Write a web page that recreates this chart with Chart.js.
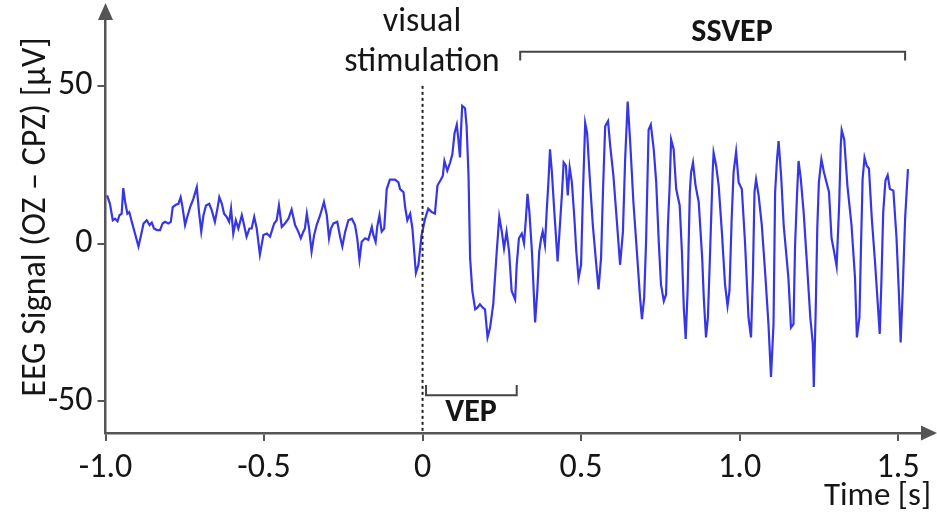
<!DOCTYPE html>
<html>
<head>
<meta charset="utf-8">
<script src="https://cdn.jsdelivr.net/npm/chart.js@4.4.0/dist/chart.umd.min.js"></script>
<style>
  body { margin: 0; background: #fff; }
  canvas { display: block; }
</style>
</head>
<body>
<canvas id="eegChart" width="937" height="518"></canvas>
<script>
// time axis (s) and EEG values (µV)
const times = [
  -0.995, -0.986, -0.977, -0.970, -0.962, -0.956, -0.949, -0.944, -0.938, -0.931,
  -0.925, -0.917, -0.907, -0.896, -0.889, -0.880, -0.870, -0.861, -0.854, -0.847,
  -0.838, -0.828, -0.820, -0.812, -0.802, -0.794, -0.788, -0.778, -0.770, -0.763,
  -0.758, -0.749, -0.742, -0.733, -0.723, -0.712, -0.705, -0.698, -0.691, -0.683,
  -0.673, -0.665, -0.655, -0.647, -0.641, -0.633, -0.626, -0.618, -0.610, -0.604,
  -0.597, -0.589, -0.581, -0.570, -0.563, -0.555, -0.546, -0.539, -0.531, -0.523,
  -0.513, -0.502, -0.491, -0.481, -0.468, -0.460, -0.453, -0.444, -0.434, -0.423,
  -0.413, -0.402, -0.392, -0.384, -0.376, -0.371, -0.365, -0.358, -0.350, -0.342,
  -0.334, -0.323, -0.311, -0.302, -0.295, -0.289, -0.281, -0.269, -0.260, -0.253,
  -0.244, -0.234, -0.223, -0.213, -0.206, -0.199, -0.192, -0.181, -0.171, -0.160,
  -0.155, -0.148, -0.143, -0.136, -0.129, -0.121, -0.113, -0.103, -0.087, -0.076,
  -0.071, -0.060, -0.055, -0.048, -0.039, -0.032, -0.021, -0.013, -0.003, 0.008,
  0.018, 0.029, 0.039, 0.047, 0.058, 0.064, 0.069, 0.078, 0.087, 0.094,
  0.101, 0.108, 0.113, 0.118, 0.121, 0.125, 0.134, 0.139, 0.145, 0.150,
  0.157, 0.166, 0.173, 0.181, 0.190, 0.197, 0.205, 0.213, 0.223, 0.234,
  0.242, 0.250, 0.257, 0.265, 0.273, 0.281, 0.292, 0.297, 0.304, 0.313,
  0.320, 0.326, 0.331, 0.337, 0.345, 0.355, 0.362, 0.368, 0.374, 0.379,
  0.386, 0.392, 0.397, 0.402, 0.408, 0.415, 0.426, 0.432, 0.440, 0.445,
  0.452, 0.458, 0.464, 0.471, 0.479, 0.485, 0.492, 0.500, 0.506, 0.513,
  0.519, 0.527, 0.537, 0.548, 0.555, 0.563, 0.569, 0.576, 0.585, 0.592,
  0.602, 0.613, 0.623, 0.632, 0.639, 0.647, 0.655, 0.665, 0.676, 0.686,
  0.692, 0.699, 0.705, 0.713, 0.720, 0.729, 0.737, 0.745, 0.752, 0.761,
  0.768, 0.774, 0.779, 0.784, 0.792, 0.800, 0.811, 0.818, 0.824, 0.830,
  0.836, 0.843, 0.847, 0.853, 0.861, 0.871, 0.882, 0.887, 0.894, 0.900,
  0.907, 0.915, 0.918, 0.926, 0.934, 0.944, 0.954, 0.962, 0.968, 0.975,
  0.981, 0.989, 0.997, 1.007, 1.017, 1.028, 1.036, 1.042, 1.047, 1.052,
  1.060, 1.070, 1.081, 1.091, 1.099, 1.107, 1.112, 1.118, 1.123, 1.131,
  1.139, 1.154, 1.162, 1.170, 1.175, 1.181, 1.186, 1.193, 1.202, 1.212,
  1.223, 1.231, 1.234, 1.240, 1.245, 1.250, 1.258, 1.266, 1.282, 1.290,
  1.298, 1.306, 1.314, 1.319, 1.322, 1.330, 1.340, 1.353, 1.364, 1.370,
  1.378, 1.383, 1.388, 1.394, 1.401, 1.408, 1.417, 1.427, 1.442, 1.447,
  1.453, 1.460, 1.467, 1.474, 1.485, 1.495, 1.503, 1.508, 1.514, 1.522,
  1.531
];
const eegValues = [
  15.3, 12.6, 7.4, 7.9, 7.1, 9.0, 9.5, 17.6, 13.2, 9.5,
  10.0, 6.9, 3.2, -0.9, 2.2, 6.4, 7.4, 5.9, 6.7, 4.8,
  4.3, 4.3, 6.4, 6.9, 6.4, 6.9, 11.6, 12.3, 12.6, 14.7,
  12.1, 5.9, 8.5, 11.6, 14.2, 17.9, 10.0, 3.8, 9.0, 12.1,
  12.6, 10.6, 6.9, 11.1, 14.7, 12.6, 9.5, 8.5, 6.9, 11.1,
  3.2, 7.4, 4.8, 9.0, 5.9, 2.2, 4.8, 4.8, 8.5, 4.8,
  -3.5, 2.7, 3.2, 2.2, 6.4, 7.4, 12.1, 5.3, 6.4, 7.9,
  10.8, 5.9, 3.8, 1.7, 3.8, 4.8, 9.5, 4.8, -2.5, 2.7,
  5.9, 9.0, 13.2, 9.0, 1.7, 4.8, 6.4, 6.9, 2.2, -0.9,
  3.8, 7.4, 7.9, 5.9, 1.7, -5.1, 0.6, 1.7, 1.2, 5.3,
  2.7, 0.6, 5.3, 9.0, 3.8, 4.8, 17.3, 20.3, 20.3, 19.4,
  17.3, 16.3, 11.6, 7.4, 9.5, 4.8, -9.3, -6.7, 2.7, 7.9,
  11.1, 10.0, 9.5, 18.4, 20.3, 21.5, 26.2, 23.1, 25.7, 28.3,
  35.1, 37.7, 33.0, 27.3, 35.1, 43.7, 42.9, 37.2, 21.5, -4.6,
  -15.0, -20.8, -20.3, -19.2, -20.3, -20.8, -29.7, -26.6, -19.2, -2.5,
  8.5, 3.8, -1.5, 3.8, -2.5, -15.0, -17.7, -6.7, 1.7, 3.2,
  0.1, 7.9, 15.8, 10.0, -2.5, -25.0, -15.0, -2.5, 1.7, 3.8,
  -0.4, 11.1, 19.4, 29.9, 22.6, 11.1, -5.6, 3.8, 16.3, 25.7,
  24.7, 15.3, 24.1, 19.4, 7.9, -2.5, -10.9, -6.7, 16.3, 38.2,
  35.1, 21.5, 5.9, -6.7, -14.5, -4.6, 16.3, 37.2, 38.8, 30.9,
  21.5, 6.9, -6.7, 3.8, 26.7, 45.0, 32.0, 13.2, -2.5, -17.1,
  -23.9, -17.1, 0.6, 36.1, 37.7, 30.0, 19.4, 0.6, -12.9, -18.2,
  -16.1, 5.9, 17.3, 33.0, 29.9, 17.3, 12.1, -2.5, -20.3, -30.2,
  -15.0, 16.3, 22.6, 25.7, 18.4, 13.2, -4.6, -17.1, -29.7, -23.4,
  -2.5, 22.6, 28.8, 24.7, 18.4, 3.8, -12.9, -19.7, -15.0, 7.9,
  22.6, 29.1, 19.4, 17.3, 0.6, -23.4, -29.7, -9.8, 16.3, 20.3,
  15.3, 5.9, -9.8, -25.5, -42.2, -25.5, 16.3, 26.7, 32.5, 21.5,
  5.9, -10.9, -26.6, -25.5, -0.4, 15.3, 26.2, 20.5, 10.0, -5.6,
  -23.4, -31.8, -45.4, -21.3, 4.8, 19.4, 26.7, 22.6, 16.3, 1.7,
  -2.5, -7.2, 12.1, 30.9, 36.0, 33.0, 18.4, 5.9, -10.9, -29.7,
  -23.4, -0.4, 20.5, 27.3, 24.7, 23.8, 7.9, -5.6, -28.6, -12.9,
  10.0, 20.0, 21.7, 17.3, 16.8, 1.7, -17.1, -31.3, -16.1, 7.9,
  23.6
];

const xTickValues = [-1.0, -0.5, 0, 0.5, 1.0, 1.5];
const xTickLabels = ['-1.0', '-0.5', '0', '0.5', '1.0', '1.5'];
const yTickValues = [-50, 0, 50];
const yTickLabels = ['-50', '0', '50'];

// VEP / SSVEP windows (s)
const vepRange = [0.011, 0.297];
const ssvepRange = [0.308, 1.522];

const FONT = "Carlito, 'Liberation Sans Narrow', 'DejaVu Sans Condensed', sans-serif";
const AXIS = '#555555';
const TEXT = '#151515';

// arrows, stimulus marker, brackets and labels
const annotations = {
  id: 'annotations',
  afterDraw(chart) {
    const ctx = chart.ctx;
    const x = chart.scales.x;
    const y = chart.scales.y;
    const area = chart.chartArea;
    ctx.save();

    // axis arrowheads
    ctx.fillStyle = AXIS;
    ctx.beginPath();
    ctx.moveTo(area.left, 3);
    ctx.lineTo(area.left - 7.5, 20);
    ctx.lineTo(area.left + 7.5, 20);
    ctx.closePath();
    ctx.fill();
    ctx.beginPath();
    ctx.moveTo(937, area.bottom);
    ctx.lineTo(921, area.bottom - 7.5);
    ctx.lineTo(921, area.bottom + 7.5);
    ctx.closePath();
    ctx.fill();

    // stimulus onset
    ctx.strokeStyle = '#222';
    ctx.lineWidth = 2;
    ctx.setLineDash([3, 3]);
    ctx.beginPath();
    ctx.moveTo(x.getPixelForValue(0), y.getPixelForValue(50));
    ctx.lineTo(x.getPixelForValue(0), area.bottom);
    ctx.stroke();
    ctx.setLineDash([]);

    // brackets
    ctx.strokeStyle = '#444';
    ctx.lineWidth = 2;
    const sy = y.getPixelForValue(60.8), sy2 = y.getPixelForValue(58);
    ctx.beginPath();
    ctx.moveTo(x.getPixelForValue(ssvepRange[0]), sy2);
    ctx.lineTo(x.getPixelForValue(ssvepRange[0]), sy);
    ctx.lineTo(x.getPixelForValue(ssvepRange[1]), sy);
    ctx.lineTo(x.getPixelForValue(ssvepRange[1]), sy2);
    ctx.stroke();
    const vy = y.getPixelForValue(-48), vy2 = y.getPixelForValue(-44.8);
    ctx.beginPath();
    ctx.moveTo(x.getPixelForValue(vepRange[0]), vy2);
    ctx.lineTo(x.getPixelForValue(vepRange[0]), vy);
    ctx.lineTo(x.getPixelForValue(vepRange[1]), vy);
    ctx.lineTo(x.getPixelForValue(vepRange[1]), vy2);
    ctx.stroke();

    // texts
    ctx.fillStyle = TEXT;
    ctx.textAlign = 'center';
    ctx.textBaseline = 'middle';
    ctx.font = '34px ' + FONT;
    ctx.fillText('visual', 422, 22);
    ctx.fillText('stimulation', 422, 62);
    ctx.font = 'bold 32px ' + FONT;
    ctx.fillText('SSVEP', 732, 33);
    ctx.fillText('VEP', 471, 413);

    ctx.font = '33px ' + FONT;
    ctx.textAlign = 'right';
    ctx.fillText('Time [s]', 931, 497);

    ctx.translate(36, 217);
    ctx.rotate(-Math.PI / 2);
    ctx.textAlign = 'center';
    ctx.font = '34px ' + FONT;
    ctx.fillText('EEG Signal (OZ \u2013 CPZ) [\u00b5V]', 0, 0);
    ctx.restore();
  }
};

const ctx = document.getElementById('eegChart').getContext('2d');

const eegChart = new Chart(ctx, {
  type: 'line',
  data: {
    datasets: [{
      data: times.map((t, i) => ({ x: t, y: eegValues[i] })),
      borderColor: '#3636e6',
      borderWidth: 2.2,
      pointRadius: 0,
      tension: 0,
      fill: false
    }]
  },
  options: {
    responsive: false,
    animation: false,
    layout: { padding: { top: 6, right: 4, left: 0, bottom: 0 } },
    plugins: { legend: { display: false }, tooltip: { enabled: false } },
    scales: {
      x: {
        type: 'linear',
        min: -1.0,
        max: 1.61,
        afterBuildTicks: s => { s.ticks = xTickValues.map(v => ({ value: v })); },
        afterFit: s => { s.height = 85; },
        border: { color: AXIS, width: 2.5 },
        grid: { drawOnChartArea: false, drawTicks: true, tickLength: 8, color: AXIS, lineWidth: 2 },
        ticks: {
          padding: 7,
          maxRotation: 0,
          color: TEXT,
          font: { family: FONT, size: 34 },
          callback: (v, i) => xTickLabels[i]
        }
      },
      y: {
        min: -60,
        max: 74,
        afterBuildTicks: s => { s.ticks = yTickValues.map(v => ({ value: v })); },
        afterFit: s => { s.width = 105.5; },
        border: { color: AXIS, width: 2.5 },
        grid: { drawOnChartArea: false, drawTicks: true, tickLength: 8, color: AXIS, lineWidth: 2 },
        ticks: {
          padding: 5,
          color: TEXT,
          font: { family: FONT, size: 34, lineHeight: 0.3 },
          callback: (v, i) => yTickLabels[i]
        }
      }
    }
  },
  plugins: [annotations]
});
</script>
</body>
</html>
